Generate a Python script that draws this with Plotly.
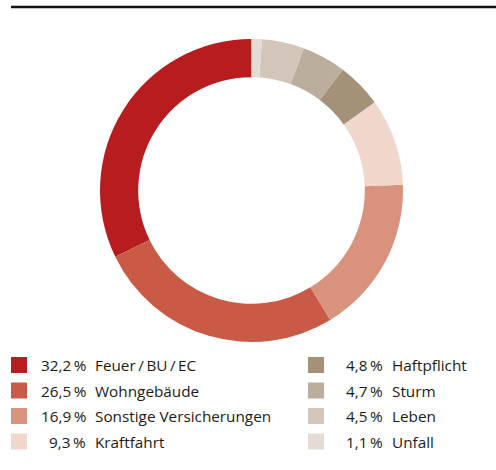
import plotly.graph_objects as go

labels = ["Feuer\u2009/\u2009BU\u2009/\u2009EC", "Wohngebäude", "Sonstige Versicherungen", "Kraftfahrt",
          "Haftpflicht", "Sturm", "Leben", "Unfall"]
values = [32.2, 26.5, 16.9, 9.3, 4.8, 4.7, 4.5, 1.1]
colors = ["#B71C1F", "#C85A46", "#D9927E", "#F1D6CB", "#A39178", "#BBAE9D", "#D2C6BA", "#E3DCD5"]

W, H = 496, 470

def px(x):
    return x / W

def py(y):
    return 1 - y / H

first_angle = values[0] / sum(values) * 360

fig = go.Figure()
fig.add_trace(go.Pie(
    labels=labels, values=values, sort=False, direction="counterclockwise", rotation=-first_angle,
    hole=0.748, marker=dict(colors=colors, line=dict(width=0)),
    textinfo="none", hoverinfo="label+percent", showlegend=False,
    domain=dict(x=[px(100), px(403)], y=[py(342), py(39)]),
))

shapes = [dict(type="line", xref="paper", yref="paper", x0=px(11), x1=1.0, y0=py(7), y1=py(7),
               line=dict(color="#111111", width=2.5))]
annotations = []
font = dict(family="Open Sans, Noto Sans, sans-serif", size=15.3, color="#1A1A1A")
for i, (lab, v, c) in enumerate(zip(labels, values, colors)):
    col = i // 4
    row = i % 4
    yc = 365 + row * 25.5
    sq_x = 11 if col == 0 else 308
    pct_x = 88 if col == 0 else 385
    lab_x = 93 if col == 0 else 390
    shapes.append(dict(type="rect", xref="paper", yref="paper", x0=px(sq_x), x1=px(sq_x + 16),
                       y0=py(yc + 8), y1=py(yc - 8), fillcolor=c, line=dict(width=0)))
    pct = f"{v:.1f}".replace(".", ",") + "\u2009%"
    annotations.append(dict(xref="paper", yref="paper", x=px(pct_x), y=py(yc), text=pct,
                            xanchor="right", yanchor="middle", showarrow=False, font=font))
    annotations.append(dict(xref="paper", yref="paper", x=px(lab_x), y=py(yc), text=lab,
                            xanchor="left", yanchor="middle", showarrow=False, font=font))

fig.update_layout(width=W, height=H, margin=dict(l=0, r=0, t=0, b=0),
                  paper_bgcolor="white", plot_bgcolor="white",
                  shapes=shapes, annotations=annotations)
fig.write_html("out.html")
